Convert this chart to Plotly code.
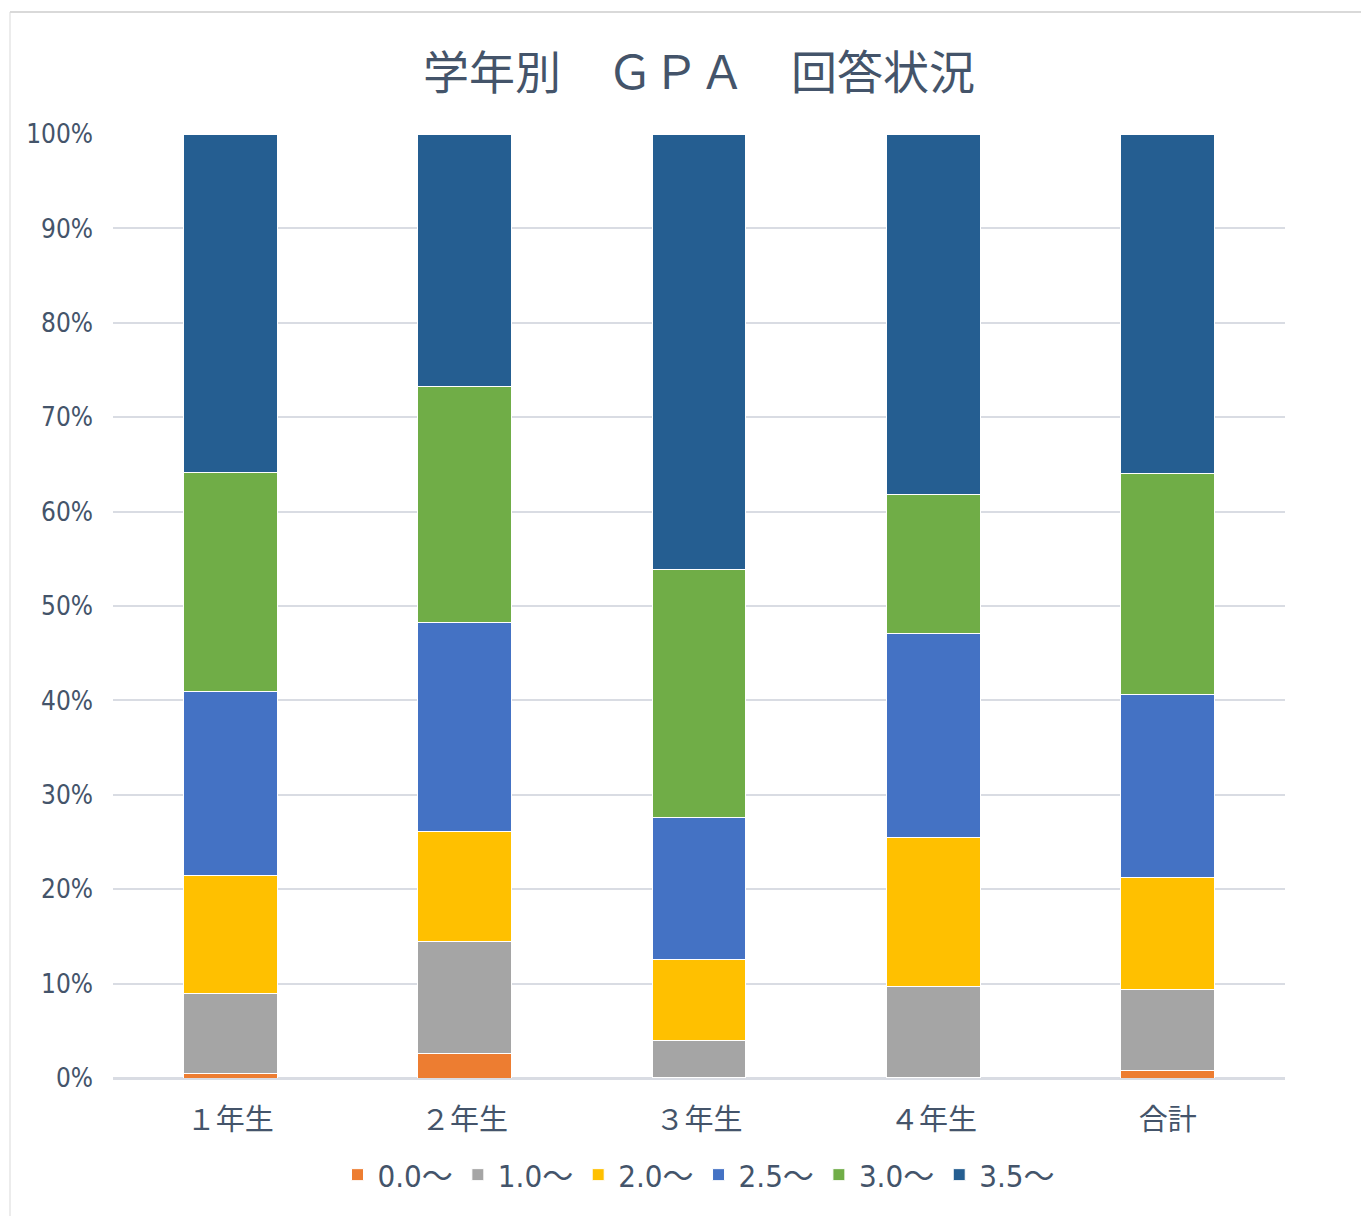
import plotly.graph_objects as go

categories = ["１年生", "２年生", "３年生", "４年生", "合計"]
series_names = ["0.0～", "1.0～", "2.0～", "2.5～", "3.0～", "3.5～"]
v00 = [0.5, 2.6, 0.1, 0.1, 0.8]
v10 = [8.4, 11.9, 3.9, 9.6, 8.6]
v20 = [12.6, 11.6, 8.6, 15.8, 11.8]
v25 = [19.4, 22.2, 15.0, 21.6, 19.4]
v30 = [23.2, 25.0, 26.3, 14.7, 23.4]
v35 = [35.9, 26.7, 46.1, 38.2, 36.0]
colors = ["#ED7D31", "#A5A5A5", "#FFC000", "#4472C4", "#70AD47", "#255E91"]
y_ticks = [0, 10, 20, 30, 40, 50, 60, 70, 80, 90, 100]
y_labels = [f"{v}%" for v in y_ticks]

cjk = "Noto Sans CJK JP"
narrow = "DejaVu Sans Condensed, Noto Sans CJK JP"
txt = "#44546A"

fig = go.Figure()
for name, vals, c in zip(series_names, [v00, v10, v20, v25, v30, v35], colors):
    fig.add_trace(go.Bar(
        x=categories, y=vals, name=name,
        marker=dict(color=c, line=dict(color="white", width=1)),
    ))

W, H = 1369, 1216
OFF = 8  # page body offset
L, R, T, B = 113 - OFF, 1285 - OFF, 134 - OFF, 1078 - OFF
pw, ph = R - L, B - T

fig.update_layout(
    barmode="stack",
    bargap=0.6,
    width=W, height=H,
    margin=dict(l=L, r=W - R, t=T, b=H - B),
    paper_bgcolor="white", plot_bgcolor="white",
    font=dict(family=cjk, color=txt),
    title=dict(text="学年別　ＧＰＡ　回答状況", x=0.5, xref="paper", xanchor="center",
               y=1 - (73 - OFF) / H, yanchor="middle",
               font=dict(size=46, color=txt, family=cjk)),
    xaxis=dict(showgrid=False, showline=False, ticks="",
               ticklabelstandoff=22,
               tickfont=dict(size=29, color=txt, family=cjk)),
    yaxis=dict(range=[0, 100], tickvals=y_ticks, ticktext=y_labels,
               showgrid=True, gridcolor="#D9DCE3", gridwidth=2,
               zeroline=True, zerolinecolor="#D9DCE3", zerolinewidth=3,
               showline=False, ticks="", ticklabelstandoff=19,
               tickfont=dict(size=26, color=txt, family=narrow)),
    legend=dict(orientation="h", x=0.5, xanchor="center",
                y=(B - (1175 - OFF)) / ph, yanchor="middle",
                font=dict(size=31, color=txt, family=narrow),
                itemwidth=30, traceorder="normal"),
    showlegend=True,
)

# outer frame lines (chart area border)
x0 = (10 - OFF - L) / pw
y0 = (B - (12 - OFF)) / ph
fig.add_shape(type="line", xref="paper", yref="paper", x0=x0, x1=1.2, y0=y0, y1=y0,
              line=dict(color="#D9D9D9", width=2))
fig.add_shape(type="line", xref="paper", yref="paper", x0=x0, x1=x0, y0=y0, y1=-0.2,
              line=dict(color="#D9D9D9", width=1))

fig.write_html("out.html")
